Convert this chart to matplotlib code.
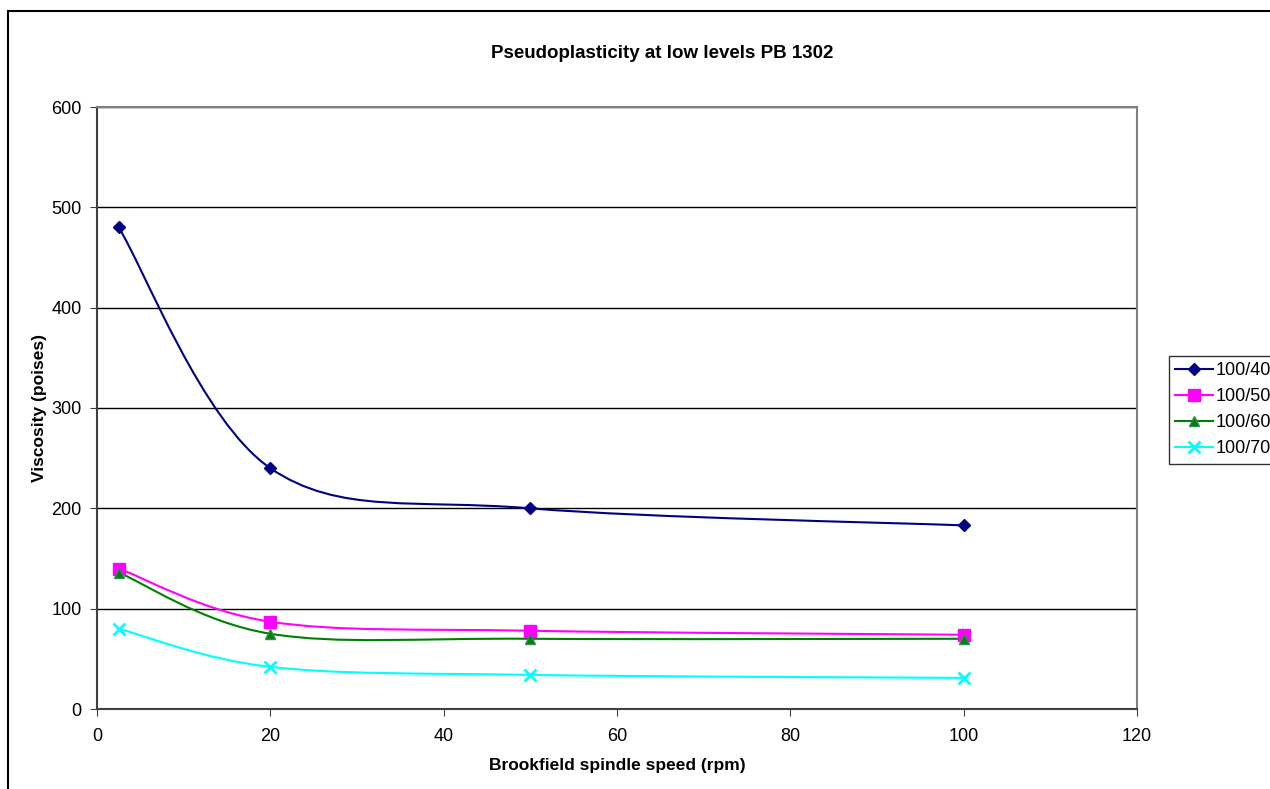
import numpy as np
import matplotlib
matplotlib.use("Agg")
import matplotlib.pyplot as plt
from matplotlib.path import Path
from matplotlib.patches import PathPatch, Rectangle
from matplotlib.lines import Line2D

plt.rcParams['font.family'] = ['Liberation Sans', 'DejaVu Sans']

# data
speed = [2.5, 20, 50, 100]
visc_40 = [480, 240, 200, 183]
visc_50 = [140, 87, 78, 74]
visc_60 = [136, 75, 70, 70]
visc_70 = [80, 42, 34, 31]
names = ["100/40", "100/50", "100/60", "100/70"]


def smooth_path(xs, ys):
    # excel style smoothed line: bezier segments, catmull-rom control points
    pts = np.column_stack([xs, ys]).astype(float)
    n = len(pts)
    verts = [pts[0]]
    codes = [Path.MOVETO]
    for i in range(n - 1):
        p0 = pts[max(i - 1, 0)]
        p1 = pts[i]
        p2 = pts[i + 1]
        p3 = pts[min(i + 2, n - 1)]
        c1 = p1 + (p2 - p0) / 6.0
        c2 = p2 - (p3 - p1) / 6.0
        verts += [c1, c2, p2]
        codes += [Path.CURVE4] * 3
    return Path(verts, codes)


fig = plt.figure(figsize=(12.7, 7.89), dpi=100)
ax = fig.add_axes([97 / 1270, 80 / 789, 1040 / 1270, 602 / 789])

series = [
    (visc_40, "#000080", "D", 6, "#000080"),
    (visc_50, "#FF00FF", "s", 8.5, "#FF00FF"),
    (visc_60, "#008000", "^", 7, "#2E8B57"),
    (visc_70, "#00FFFF", "x", 8, "#00FFFF"),
]

handles = []
for (vals, col, mk, ms, ec), name in zip(series, names):
    ax.add_patch(PathPatch(smooth_path(speed, vals), facecolor="none",
                           edgecolor=col, lw=1.5, zorder=3))
    ax.plot(speed, vals, linestyle="none", marker=mk, ms=ms, color=col,
            markeredgecolor=ec, mew=2 if mk == "x" else 1, zorder=4)
    handles.append(Line2D([], [], color=col, lw=1.5, marker=mk, ms=ms,
                          markeredgecolor=ec, mew=2 if mk == "x" else 1,
                          label=name))

ax.set_xlim(0, 120)
ax.set_ylim(0, 600)
ax.set_xticks(range(0, 121, 20))
ax.set_yticks(range(0, 601, 100))
ax.yaxis.grid(True, color="black", lw=1)
ax.set_axisbelow(True)
for s in ["top", "right"]:
    ax.spines[s].set_color("#808080")
    ax.spines[s].set_linewidth(1.5)
for s in ["left", "bottom"]:
    ax.spines[s].set_color("#404040")
    ax.spines[s].set_linewidth(1.5)
ax.tick_params(direction="out", length=5, labelsize=13, pad=6, color="#404040")
ax.tick_params(axis="x", pad=9)

ax.set_xlabel("Brookfield spindle speed (rpm)", fontsize=12.5,
              fontweight="bold", labelpad=9)
ax.set_ylabel("Viscosity (poises)", fontsize=12.5, fontweight="bold",
              labelpad=3)
fig.text(662 / 1270, 1 - 54 / 789, "Pseudoplasticity at low levels PB 1302",
         ha="center", va="center", fontsize=13.5, fontweight="bold")

fig.legend(handles=handles, loc="upper left",
           bbox_to_anchor=(1169 / 1270, 1 - 356 / 789), fontsize=13,
           frameon=True, fancybox=False, edgecolor="black", handlelength=2.1,
           handletextpad=0.15, borderpad=0.35, labelspacing=0.5,
           borderaxespad=0)
fig.legends[0].get_frame().set_linewidth(1)

fig.add_artist(Rectangle((8 / 1270, -0.05), 1.2, 1.05 - 11 / 789,
                         transform=fig.transFigure, fill=False,
                         edgecolor="black", lw=1.5))

plt.savefig("out.png", dpi=100)
